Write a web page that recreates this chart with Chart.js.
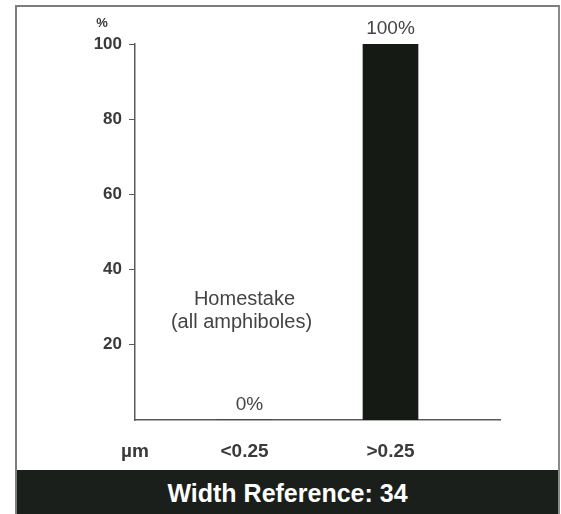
<!DOCTYPE html>
<html>
<head>
<meta charset="utf-8">
<script src="https://cdn.jsdelivr.net/npm/chart.js@4/dist/chart.umd.min.js"></script>
<style>
  html, body { margin: 0; padding: 0; background: #ffffff; }
  #wrap { position: relative; width: 561px; height: 514px; overflow: hidden; background: #fff; }
  #frame { position: absolute; left: 15px; top: 5px; width: 541px; height: 520px;
           border-left: 2px solid #7d7d7d; border-top: 2px solid #7d7d7d; border-right: 2px solid #8a8a8a; }
  #band { position: absolute; left: 17px; top: 470px; width: 541px; height: 44px; background: #1b1f1b;
          color: #ffffff; font: bold 25px "Liberation Sans", Arial, sans-serif; text-align: center;
          line-height: 46px; }
  #chartbox { position: absolute; left: 0; top: 0; width: 561px; height: 470px; }
</style>
</head>
<body>
<div id="wrap">
  <div id="frame"></div>
  <div id="chartbox"><canvas id="c" width="561" height="470"></canvas></div>
  <div id="band">Width Reference: 34</div>
</div>
<script>
// ---- data ----
const categories = ["<0.25", ">0.25"];
const values = [0, 100];
const valueLabels = ["0%", "100%"];
const yTicks = [20, 40, 60, 80, 100];
const xUnitLabel = "µm";
const yUnitLabel = "%";
const noteLines = ["Homestake", "(all amphiboles)"];

const FONT = '"Liberation Sans", Arial, sans-serif';

const overlay = {
  id: 'overlay',
  afterDatasetsDraw(chart) {
    const ctx = chart.ctx;
    const meta = chart.getDatasetMeta(0);
    const xs = chart.scales.x, ys = chart.scales.y;
    ctx.save();
    // value labels above bars
    ctx.fillStyle = '#444444';
    ctx.font = '19px ' + FONT;
    ctx.textAlign = 'center';
    ctx.textBaseline = 'middle';
    meta.data.forEach((bar, i) => {
      ctx.fillText(valueLabels[i], bar.x + (i === 0 ? 5 : 0), bar.y - 15);
    });
    // note text
    ctx.font = '20px ' + FONT;
    const nx = xs.getPixelForValue(1);
    ctx.fillText(noteLines[0], nx, ys.getPixelForValue(32));
    ctx.fillText(noteLines[1], nx - 3, ys.getPixelForValue(26));
    // y unit
    ctx.font = 'bold 13px ' + FONT;
    ctx.fillStyle = '#3a3a3a';
    ctx.fillText(yUnitLabel, 102, ys.getPixelForValue(100) - 21);
    ctx.restore();
  }
};

new Chart(document.getElementById('c'), {
  type: 'bar',
  data: {
    datasets: [{
      data: values.map((v, i) => ({ x: i + 1, y: v })),
      backgroundColor: '#151a15',
      borderWidth: 0,
      barThickness: 55
    }]
  },
  options: {
    responsive: false,
    animation: false,
    events: [],
    layout: { padding: { left: 0, right: 61, top: 44, bottom: 2 } },
    plugins: { legend: { display: false }, tooltip: { enabled: false } },
    scales: {
      x: {
        type: 'linear',
        offset: false,
        min: 0.25,
        max: 2.75,
        afterBuildTicks(scale) {
          scale.ticks = [{ value: 0.25 }, { value: 1 }, { value: 2 }];
        },
        afterFit(scale) { scale.height = 48; },
        grid: { display: false, drawTicks: false },
        border: { display: true, color: '#5a5a5a', width: 1.5 },
        ticks: {
          padding: 20,
          maxRotation: 0,
          autoSkip: false,
          color: '#3a3a3a',
          font: { family: FONT, size: 19, weight: 'bold' },
          callback(v) {
            if (v === 0.25) return xUnitLabel;
            return categories[v - 1];
          }
        }
      },
      y: {
        min: 0,
        max: 100,
        afterBuildTicks(scale) {
          scale.ticks = yTicks.map(v => ({ value: v }));
        },
        afterFit(scale) { scale.width = 135; },
        grid: { drawOnChartArea: false, drawTicks: true, tickLength: 6, color: '#5a5a5a', lineWidth: 1 },
        border: { display: true, color: '#5a5a5a', width: 1.5 },
        ticks: {
          padding: 7,
          color: '#3a3a3a',
          font: { family: FONT, size: 17, weight: 'bold' }
        }
      }
    }
  },
  plugins: [overlay]
});
</script>
</body>
</html>
